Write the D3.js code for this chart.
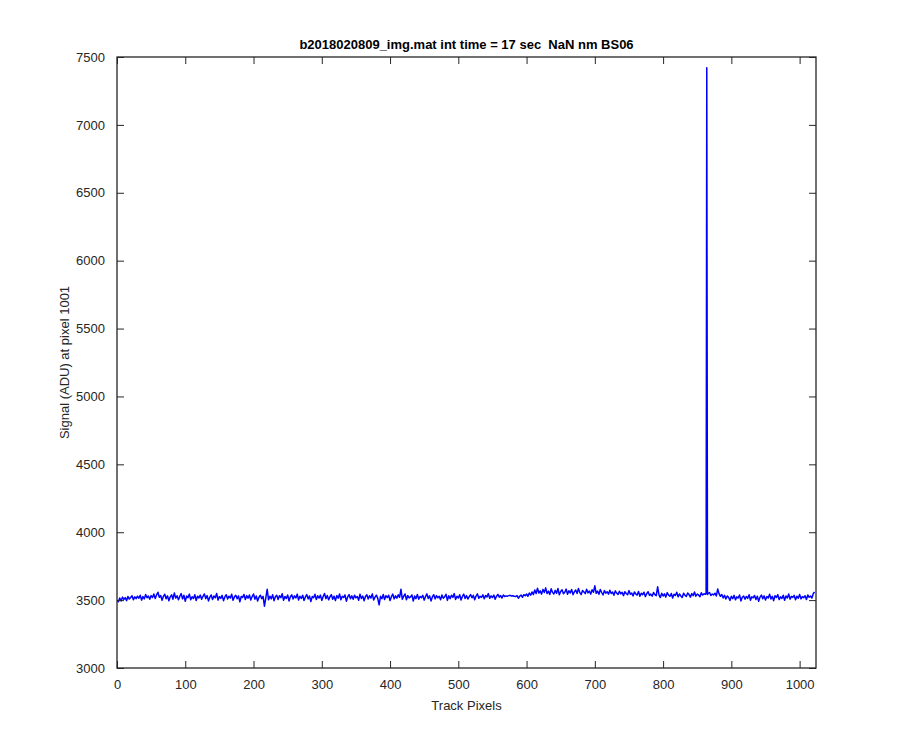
<!DOCTYPE html>
<html>
<head>
<meta charset="utf-8">
<script src="https://cdn.jsdelivr.net/npm/d3@7"></script>
<style>
  html, body { margin: 0; padding: 0; background: #fff; }
  svg { display: block; font-family: "Liberation Sans", Arial, Helvetica, sans-serif; }
</style>
</head>
<body>
<svg id="chart" width="900" height="750"></svg>
<script>
// ---- data ----
const titleText = "b2018020809_img.mat int time = 17 sec  NaN nm BS06";
const xLabel = "Track Pixels";
const yLabel = "Signal (ADU) at pixel 1001";
const xTicks = [0, 100, 200, 300, 400, 500, 600, 700, 800, 900, 1000];
const yTicks = [3000, 3500, 4000, 4500, 5000, 5500, 6000, 6500, 7000, 7500];
const sampleStep = 2; // signal below is read every 2 track pixels, starting at 0
const signal = [
3500,3488,3515,3493,3522,3505,3518,3496,3527,3508,3520,3532,3503,3524,3511,3529,
3514,3536,3500,3526,3509,3541,3517,3530,3506,3533,3519,3545,3512,3538,3558,3521,
3534,3498,3528,3543,3510,3531,3495,3524,3539,3507,3553,3515,3532,3502,3527,3548,
3509,3536,3491,3530,3518,3544,3503,3525,3512,3540,3497,3529,3516,3537,3506,3528,
3545,3511,3533,3494,3522,3538,3505,3531,3517,3549,3500,3526,3513,3535,3496,3523,
3540,3508,3529,3515,3543,3499,3524,3536,3510,3531,3488,3527,3519,3542,3504,3533,
3514,3538,3501,3526,3545,3507,3530,3493,3521,3536,3511,3528,3455,3517,3580,3502,
3529,3509,3540,3496,3524,3535,3505,3532,3518,3547,3499,3527,3512,3538,3494,3525,
3539,3508,3531,3516,3544,3501,3528,3513,3536,3497,3523,3541,3509,3530,3489,3526,
3518,3543,3504,3532,3515,3537,3498,3527,3549,3511,3534,3502,3525,3540,3507,3529,
3496,3533,3514,3545,3503,3528,3519,3538,3492,3524,3541,3510,3531,3506,3536,3517,
3526,3499,3543,3512,3530,3495,3527,3539,3508,3532,3515,3546,3501,3522,3537,3513,
3465,3528,3510,3541,3504,3533,3519,3536,3497,3525,3544,3509,3531,3514,3539,3521,
3580,3506,3529,3545,3502,3534,3516,3524,3538,3493,3530,3511,3542,3507,3527,3518,
3535,3500,3526,3546,3512,3531,3494,3523,3540,3509,3533,3517,3528,3503,3537,3514,
3525,3543,3498,3532,3511,3536,3520,3548,3505,3529,3515,3539,3501,3527,3544,3512,
3533,3508,3526,3541,3517,3535,3502,3530,3546,3514,3528,3520,3539,3510,3534,3524,
3548,3513,3531,3519,3537,3506,3529,3542,3522,3533,3515,3538,3527,3531,3529,3533,
3535,3530,3532,3528,3526,3534,3514,3529,3537,3521,3540,3532,3545,3528,3552,3536,
3560,3541,3575,3549,3587,3552,3568,3544,3579,3556,3590,3548,3566,3541,3583,3557,
3545,3572,3550,3585,3539,3563,3576,3547,3558,3581,3543,3569,3552,3578,3540,3561,
3574,3549,3586,3555,3541,3571,3560,3548,3580,3553,3567,3544,3576,3558,3605,3550,
3566,3543,3578,3556,3538,3570,3551,3562,3544,3573,3548,3559,3536,3568,3552,3541,
3565,3546,3557,3533,3562,3549,3539,3570,3543,3552,3531,3560,3545,3537,3564,3528,
3551,3540,3558,3526,3547,3562,3535,3544,3529,3556,3541,3533,3598,3538,3519,3550,
3530,3546,3522,3555,3537,3528,3549,3516,3543,3534,3558,3524,3545,3531,3519,3551,
3536,3527,3553,3541,3522,3548,3533,3560,3529,3544,3538,3525,3554,3537,3547,3543,
7420,3549,3556,3534,3545,3538,3551,3530,3582,3546,3528,3541,3516,3535,3509,3530,
3520,3497,3528,3511,3535,3502,3524,3515,3538,3494,3521,3530,3506,3527,3513,3540,
3499,3525,3517,3534,3505,3529,3492,3522,3537,3510,3531,3501,3526,3515,3543,3508,
3528,3496,3533,3519,3540,3504,3524,3512,3536,3499,3530,3516,3545,3507,3527,3520,
3535,3502,3529,3514,3541,3509,3526,3518,3532,3505,3538,3521,3530,3515,3548,3560
];
// the single-pixel spike is narrower than the sampling: its neighbours
const spikePixels = [863, 865];
const spikeValues = [3548, 3541];

// ---- build points ----
const pts = new Map();
signal.forEach((v, i) => pts.set(i * sampleStep, v));
spikePixels.forEach((p, i) => pts.set(p, spikeValues[i]));
const points = Array.from(pts, ([px, v]) => ({px, v})).sort((a, b) => a.px - b.px);

// ---- layout ----
const padL = 117, padR = 816, padT = 57, padB = 668;
const axisColor = "#262626";
const svg = d3.select("#chart");

const x = d3.scaleLinear().domain([0, 1024]).range([padL, padR]);
const y = d3.scaleLinear().domain([3000, 7500]).range([padB, padT]);

const tickLen = 7;

svg.append("clipPath").attr("id", "clip")
  .append("rect").attr("x", padL).attr("y", padT).attr("width", padR - padL).attr("height", padB - padT);

svg.append("path")
  .datum(points)
  .attr("clip-path", "url(#clip)")
  .attr("fill", "none")
  .attr("stroke", "#0000ff")
  .attr("stroke-width", 1.5)
  .attr("stroke-linejoin", "round")
  .attr("d", d3.line().x(d => x(d.px)).y(d => y(d.v)));

const fontSize = 13;
const gB = svg.append("g").attr("transform", `translate(0,${padB})`)
  .call(d3.axisBottom(x).tickValues(xTicks).tickSizeInner(-tickLen).tickSizeOuter(0).tickPadding(12).tickFormat(d3.format("d")));
const gT = svg.append("g").attr("transform", `translate(0,${padT})`)
  .call(d3.axisTop(x).tickValues(xTicks).tickSizeInner(-tickLen).tickSizeOuter(0).tickFormat(""));
const gL = svg.append("g").attr("transform", `translate(${padL},0)`)
  .call(d3.axisLeft(y).tickValues(yTicks).tickSizeInner(-tickLen).tickSizeOuter(0).tickPadding(12).tickFormat(d3.format("d")));
const gR = svg.append("g").attr("transform", `translate(${padR},0)`)
  .call(d3.axisRight(y).tickValues(yTicks).tickSizeInner(-tickLen).tickSizeOuter(0).tickFormat(""));

[gB, gT, gL, gR].forEach(g => {
  g.select(".domain").remove();
  g.selectAll(".tick line").attr("stroke", axisColor).attr("stroke-width", 1);
  g.selectAll(".tick text").attr("fill", axisColor)
    .style("font-family", "'Liberation Sans', Arial, sans-serif").style("font-size", fontSize + "px");
});

svg.append("rect")
  .attr("x", padL).attr("y", padT).attr("width", padR - padL).attr("height", padB - padT)
  .attr("fill", "none").attr("stroke", axisColor).attr("stroke-width", 1.3);

svg.append("text")
  .attr("x", (padL + padR) / 2).attr("y", 49)
  .attr("text-anchor", "middle")
  .attr("fill", "#000")
  .style("font-weight", "bold").style("font-size", "13px")
  .style("white-space", "pre")
  .text(titleText);

svg.append("text")
  .attr("x", (padL + padR) / 2).attr("y", 710)
  .attr("text-anchor", "middle").attr("fill", axisColor)
  .style("font-size", "13px")
  .text(xLabel);

svg.append("text")
  .attr("transform", `translate(69,${(padT + padB) / 2}) rotate(-90)`)
  .attr("text-anchor", "middle").attr("fill", axisColor)
  .style("font-size", "13px")
  .text(yLabel);
</script>
</body>
</html>
